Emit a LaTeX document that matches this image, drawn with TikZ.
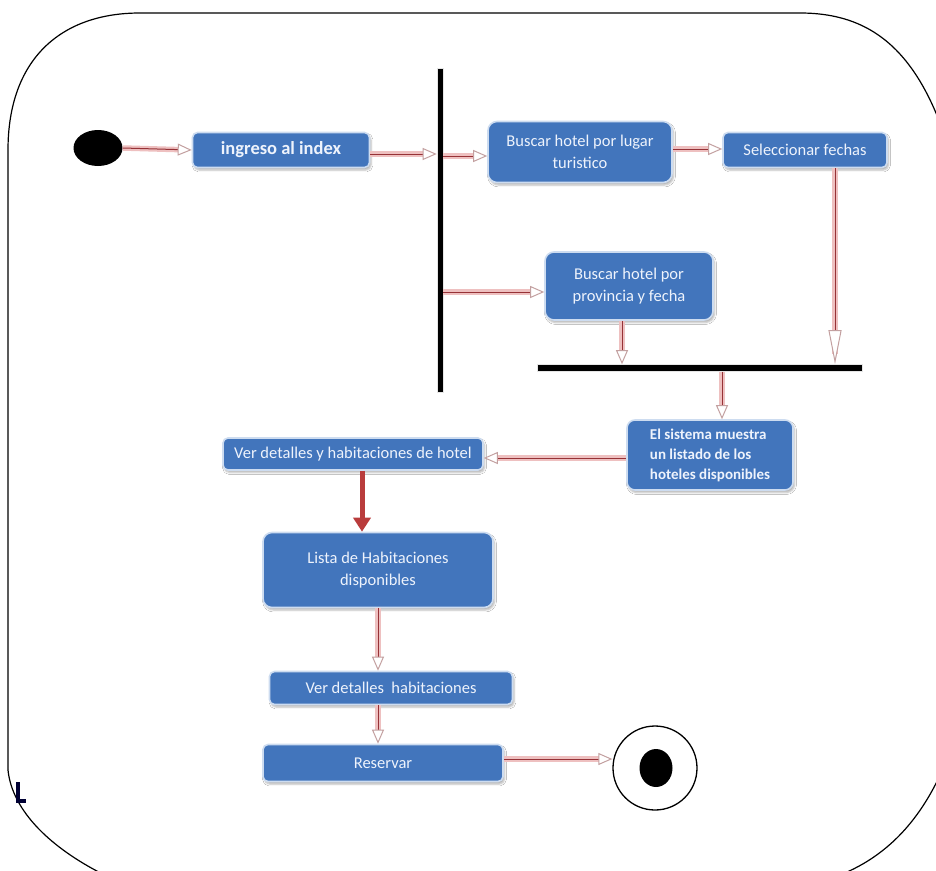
\documentclass[tikz,border=0pt]{standalone}
\usepackage{fontspec}
\setmainfont{Carlito}
\usetikzlibrary{arrows.meta,shapes.geometric,shadows.blur}
\definecolor{actblue}{RGB}{66,117,188}
\definecolor{actedge}{RGB}{205,220,240}
\definecolor{acttext}{RGB}{238,243,252}
\definecolor{halo}{RGB}{238,192,192}
\definecolor{flowred}{RGB}{150,50,55}
\definecolor{tipgray}{RGB}{195,160,160}
\definecolor{thickred}{RGB}{185,60,60}
\tikzset{
  activity/.style={draw=actedge, line width=1.6pt, fill=actblue, rounded corners=5pt,
    text=acttext, align=center, inner sep=2pt, font=\fontsize{16.5}{22}\selectfont,
    blur shadow={shadow xshift=1.5pt, shadow yshift=-2.5pt, shadow blur steps=4, shadow opacity=30}},
  bar/.style={fill=black, draw=black!10, line width=0.6pt, inner sep=0pt},
  flow/.style={draw=flowred, line width=1pt,
    -{Triangle[open, length=14pt, width=12pt, line width=1pt, color=tipgray, fill=white]},
    preaction={draw=halo, line width=5.5pt, -{}, shorten >=10pt}},
  longflow/.style={flow,
    -{Triangle[open, length=34pt, width=13pt, line width=1pt, color=tipgray, fill=white]}},
  bigflow/.style={draw=thickred, line width=5pt, -{Triangle[length=14pt, width=17pt]}},
  frameline/.style={draw=black, line width=1.2pt}
}
\begin{document}
\begin{tikzpicture}[x=1pt, y=-1pt]
\useasboundingbox (0,0) rectangle (936,870);
\fill[white] (0,0) rectangle (936,870);
\clip (0,0) rectangle (936,870);

% outer frame with big rounded corners, running off the right and bottom edges
\draw[frameline] (8,770) -- (8,150) .. controls (8,60) and (60,13) .. (140,13)
  -- (800,13) .. controls (880,13) and (930,60) .. (960,190);
\draw[frameline] (8,770) .. controls (12,810) and (50,850) .. (115,880);
\draw[frameline] (965,700) .. controls (940,810) and (890,855) .. (840,875);
% small bracket mark on the left edge
\draw[draw=black!80!blue, line width=4pt] (18,782) -- (18,801) -- (26,801);

% initial and final states
\node[ellipse, fill=black, minimum width=49pt, minimum height=36pt, inner sep=0pt] (start) at (98,148) {};
\node[circle, draw=black, line width=1.3pt, fill=white, minimum size=84pt, inner sep=0pt] (end) at (655,768) {};
\node[ellipse, fill=black, minimum width=33pt, minimum height=38pt, inner sep=0pt] (enddot) at (656,768) {};

% fork and join bars
\node[bar, minimum width=6pt, minimum height=324pt] (fork) at (440,230) {};
\node[bar, minimum width=325pt, minimum height=7pt] (join) at (700,368) {};

% activities
\node[activity, minimum width=177pt, minimum height=35pt, font=\fontsize{18.5}{22}\selectfont\bfseries] (index) at (281,150) {ingreso al index};
\node[activity, rounded corners=9pt, minimum width=184pt, minimum height=61pt] (lugar) at (580,152) {Buscar hotel por lugar\\turistico};
\node[activity, minimum width=164pt, minimum height=35pt] (fechas) at (805,150) {Seleccionar fechas};
\node[activity, rounded corners=9pt, minimum width=168pt, minimum height=68pt] (prov) at (629,286) {Buscar hotel por\\provincia y fecha};
\node[activity, rounded corners=8pt, minimum width=166pt, minimum height=70pt, align=left,
  font=\fontsize{15}{20}\selectfont\bfseries] (sist) at (710,455) {El sistema muestra\\un listado de los\\hoteles disponibles};
\node[activity, minimum width=260pt, minimum height=32pt] (verhotel) at (353,454) {Ver detalles y habitaciones de hotel};
\node[activity, rounded corners=9pt, minimum width=230pt, minimum height=75pt] (lista) at (378,570) {Lista de Habitaciones\\disponibles};
\node[activity, minimum width=243pt, minimum height=33pt] (verhab) at (391,688) {Ver detalles\ \ habitaciones};
\node[activity, minimum width=240pt, minimum height=37pt] (reservar) at (383,763) {Reservar};

% transitions
\coordinate (sdrop) at (722,0);
\draw[flow] (start.east) -- (index.west);
\draw[flow] ([yshift=-4pt]index.east) -- ([yshift=-4pt]fork.west |- index.east);
\draw[flow] ([yshift=-4pt]fork.east |- lugar.west) -- ([yshift=-4pt]lugar.west);
\draw[flow] ([yshift=3pt]lugar.east) -- ([yshift=1pt]fechas.west);
\draw[longflow] ([xshift=30pt]fechas.south) -- ([xshift=30pt]fechas.south |- join.north);
\draw[flow] ([yshift=-6pt]fork.east |- prov.west) -- ([yshift=-6pt]prov.west);
\draw[flow] ([xshift=-7pt]prov.south) -- ([xshift=-7pt]prov.south |- join.north);
\draw[flow] (join.south -| sdrop) -- (sist.north -| sdrop);
\draw[flow] ([yshift=-3pt]sist.west) -- ([yshift=-3pt]sist.west -| verhotel.east);
\draw[bigflow] ([xshift=9pt]verhotel.south) -- ([xshift=9pt]verhotel.south |- lista.north);
\draw[flow] (lista.south) -- (lista.south |- verhab.north);
\draw[flow] ([xshift=-13pt]verhab.south) -- ([xshift=-13pt]verhab.south |- reservar.north);
\draw[flow] ([yshift=4pt]reservar.east) -- ([yshift=4pt]reservar.east -| end.west);
\end{tikzpicture}
\end{document}
